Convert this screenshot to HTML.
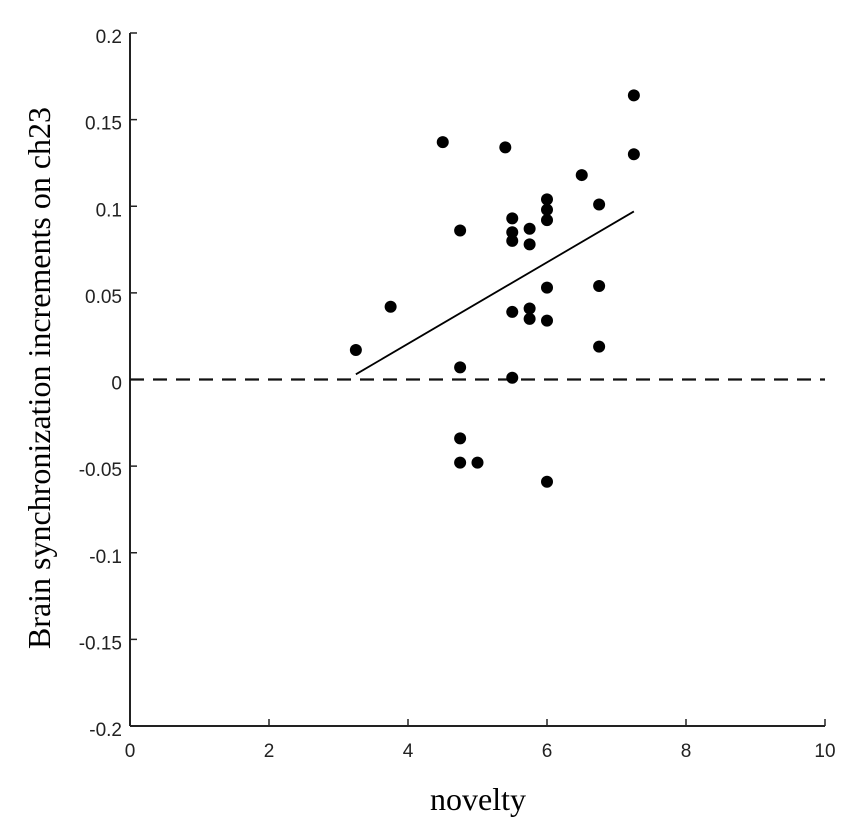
<!DOCTYPE html>
<html><head><meta charset="utf-8"><style>
html,body{margin:0;padding:0;background:#fff;width:850px;height:829px;overflow:hidden}
svg{display:block}
</style></head><body>
<svg id="chart" width="850" height="829" xmlns="http://www.w3.org/2000/svg"></svg>
<script>
const xTicks=[0,2,4,6,8,10];
const yTicks=[-0.2,-0.15,-0.1,-0.05,0,0.05,0.1,0.15,0.2];
const yTickLabels=["-0.2","-0.15","-0.1","-0.05","0","0.05","0.1","0.15","0.2"];
const noveltyValues=[3.25,3.75,4.5,4.75,4.75,4.75,4.75,5.0,5.4,5.5,5.5,5.5,5.5,5.5,5.75,5.75,5.75,5.75,6,6,6,6,6,6,6.5,6.75,6.75,6.75,7.25,7.25];
const syncValues=[0.017,0.042,0.137,0.086,0.007,-0.034,-0.048,-0.048,0.134,0.093,0.085,0.080,0.039,0.001,0.087,0.078,0.041,0.035,0.104,0.098,0.092,0.053,0.034,-0.059,0.118,0.101,0.054,0.019,0.164,0.130];
const fitX=[3.25,7.25];
const fitY=[0.003,0.097];
const NS="http://www.w3.org/2000/svg";
const svg=document.getElementById('chart');
const L=130,R=825,T=33,B=726;
const sx=v=>L+(v-0)/10*(R-L);
const sy=v=>B-(v+0.2)/0.4*(B-T);
function mk(tag,attrs,parent){const e=document.createElementNS(NS,tag);for(const k in attrs)e.setAttribute(k,attrs[k]);(parent||svg).appendChild(e);return e;}
let e;
e=mk('line',{x1:L,y1:T,x2:L,y2:B,stroke:'#222','stroke-width':2});


e=mk('line',{x1:L,y1:B,x2:R,y2:B,stroke:'#222','stroke-width':2});


xTicks.forEach(v=>{
 e=mk('line',{x1:sx(v),y1:B,x2:sx(v),y2:B-7,stroke:'#222','stroke-width':1.5});
 
 
 e=mk('text',{x:sx(v),y:B+31,'text-anchor':'middle','font-family':'Liberation Sans, sans-serif','font-size':19,fill:'#222'});
 e.textContent=String(v);
 
 
});
yTicks.forEach((v,i)=>{
 e=mk('line',{x1:L,y1:sy(v),x2:L+7,y2:sy(v),stroke:'#222','stroke-width':1.5});
 
 
 e=mk('text',{x:L-8,y:sy(v)+10,'text-anchor':'end','font-family':'Liberation Sans, sans-serif','font-size':19,fill:'#222'});
 e.textContent=yTickLabels[i];
 
 
});
e=mk('line',{x1:L,y1:sy(0),x2:R,y2:sy(0),stroke:'#111','stroke-width':2.2,'stroke-dasharray':'14,9'});


e=mk('line',{x1:sx(fitX[0]),y1:sy(fitY[0]),x2:sx(fitX[1]),y2:sy(fitY[1]),stroke:'#000','stroke-width':1.8});


noveltyValues.forEach((v,i)=>{
 e=mk('circle',{cx:sx(v),cy:sy(syncValues[i]),r:6,fill:'#000'});
 
 
});
e=mk('text',{x:478,y:810,'text-anchor':'middle','font-family':'Liberation Serif, serif','font-size':32,fill:'#000'});
e.textContent='novelty';


e=mk('text',{x:0,y:0,'text-anchor':'middle','font-family':'Liberation Serif, serif','font-size':32,fill:'#000',transform:'translate(50,378) rotate(-90)'});
e.textContent='Brain synchronization increments on ch23';


</script>
</body></html>
